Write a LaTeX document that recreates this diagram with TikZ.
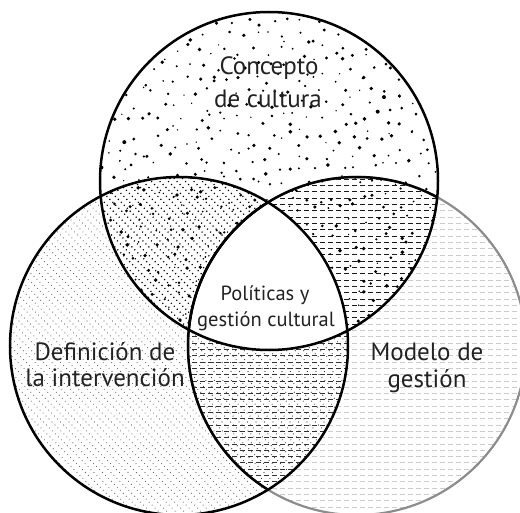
\documentclass[tikz,border=0pt]{standalone}
\usepackage{fontspec}
\setmainfont{PT Sans}
\definecolor{txt}{HTML}{222222}
\definecolor{rim}{HTML}{8C8C8C}
\def\Tcirc{(269,-181) circle (169)}
\def\Lcirc{(179,-346) circle (169)}
\def\Rcirc{(357,-346) circle (169)}
\newcommand\diaglines[3]{%
  \foreach \k [evaluate=\k as \c using -540+8.5*\k] in {0,...,128}
    \draw[#3, line width=#1, dash pattern=on #1 off #2] (\c,0) -- ++(540,-540);}
\newcommand\hdashes[2]{%
  \foreach \k [evaluate=\k as \yy using -3-6.3*\k] in {0,...,82}
    \draw[#2, line width=#1, dash pattern=on 5pt off 3pt] (0,\yy) -- (520,\yy);}
\begin{document}
\begin{tikzpicture}[x=1pt,y=1pt,
  biglbl/.style={inner sep=0pt, anchor=base, text=txt, font=\fontsize{25}{30}\selectfont},
  smalllbl/.style={inner sep=0pt, anchor=base, text=txt, font=\fontsize{20.5}{24}\selectfont},
  outline/.style={line width=2.5pt, draw=black}]
\useasboundingbox (0,0) rectangle (520,-513);
\clip (0,0) rectangle (520,-513);
% left circle only pattern
\begin{scope}\clip \Lcirc; \diaglines{0.8pt}{3.4pt}{black!60}\end{scope}
% right circle pattern
\begin{scope}\clip \Rcirc; \hdashes{0.9pt}{black!20}\end{scope}
% top circle: clear
\begin{scope}\clip \Tcirc; \fill[white] (0,0) rectangle (520,-513);\end{scope}
% top & left
\begin{scope}\clip \Tcirc; \clip \Lcirc; \diaglines{1.1pt}{3.1pt}{black}\end{scope}
% top & right
\begin{scope}\clip \Tcirc; \clip \Rcirc; \hdashes{1pt}{black!90}\end{scope}
% left & right
\begin{scope}\clip \Lcirc; \clip \Rcirc;
  \fill[white] (0,0) rectangle (520,-513);
  \hdashes{1pt}{black!80}
  \diaglines{0.8pt}{3.4pt}{black!80}
\end{scope}
% stipple dots in top circle (quasi-random R2 sequence with jitter)
\begin{scope}\clip \Tcirc;
  \pgfmathsetseed{4711}
  \foreach \i in {1,...,640}{
    \pgfmathsetmacro\px{100+338*mod(0.5+\i*0.7548777,1)+5*rand}
    \pgfmathsetmacro\py{-12-338*mod(0.5+\i*0.5698403,1)+5*rand}
    \pgfmathsetmacro\pr{0.7+1.3*rnd}
    \fill[black] (\px,\py) circle (\pr);
  }
\end{scope}
% centre region white
\begin{scope}\clip \Tcirc; \clip \Lcirc; \fill[white] \Rcirc;\end{scope}
% outlines
\draw[line width=2.2pt, draw=rim] \Rcirc;
\begin{scope}\clip \Tcirc; \draw[outline] \Rcirc;\end{scope}
\begin{scope}\clip \Lcirc; \draw[outline] \Rcirc;\end{scope}
\draw[outline] \Lcirc;
\draw[outline] \Tcirc;
% labels
\node[biglbl] (c1) at (269,-75) {Concepto};
\node[biglbl] (c2) at (268,-108) {de cultura};
\node[biglbl] (d1) at (105,-360) {Definición de};
\node[biglbl] (d2) at (105,-387) {la intervención};
\node[biglbl] (m1) at (427,-361) {Modelo de};
\node[biglbl] (m2) at (427,-388) {gestión};
\node[smalllbl] (p1) at (265,-301) {Políticas y};
\node[smalllbl] (p2) at (266,-327) {gestión cultural};
\end{tikzpicture}
\end{document}
